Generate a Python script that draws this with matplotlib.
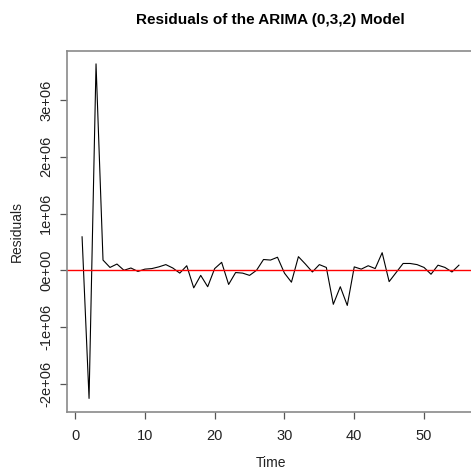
import matplotlib
matplotlib.use('agg')
import matplotlib.pyplot as plt
from matplotlib.ticker import FuncFormatter

# residuals of the fitted ARIMA(0,3,2), in units of 1e6
time = list(range(1, 56))
resid_m = [0.59, -2.26, 3.64, 0.18, 0.05, 0.11, 0.00, 0.04, -0.02, 0.02,
           0.03, 0.06, 0.10, 0.04, -0.05, 0.08, -0.31, -0.09, -0.29, 0.03,
           0.14, -0.25, -0.04, -0.05, -0.09, 0.00, 0.19, 0.18, 0.23, -0.05,
           -0.21, 0.24, 0.11, -0.03, 0.10, 0.05, -0.60, -0.29, -0.62, 0.06,
           0.02, 0.08, 0.03, 0.31, -0.20, -0.04, 0.12, 0.12, 0.10, 0.05,
           -0.07, 0.09, 0.05, -0.03, 0.09]
residuals = [v * 1e6 for v in resid_m]
xticks = [0, 10, 20, 30, 40, 50]
yticks = [-2e6, -1e6, 0, 1e6, 2e6, 3e6]

plt.rcParams['font.family'] = ['Liberation Sans', 'DejaVu Sans']

W, H = 471, 470
fig = plt.figure(figsize=(W / 100, H / 100), dpi=100)
left, right, top, bottom = 67, 474, 50.5, 411.8
ax = fig.add_axes([left / W, 1 - bottom / H, (right - left) / W, (bottom - top) / H])

ax.plot(time, residuals, color='black', lw=0.8)
ax.margins(x=0.04, y=0.04)
ax.axhline(0, color='#ff0000', lw=1.0)

ax.set_xticks(xticks)
ax.set_yticks(yticks)
ax.yaxis.set_major_formatter(FuncFormatter(lambda v, p: f"{v:.0e}"))
for s in ax.spines.values():
    s.set_color('#8a8a8a')
    s.set_linewidth(1.2)
ax.tick_params(axis='both', direction='out', length=5, width=0.9, color='#555555',
               labelsize=10.5, labelcolor='#222222')
ax.tick_params(axis='x', pad=7.5)
ax.tick_params(axis='y', pad=5)
for lab in ax.get_yticklabels():
    lab.set_rotation(90)
    lab.set_va('center')

fig.text(17 / W, 1 - 231 / H, 'Residuals', rotation=90, ha='center', va='center',
         fontsize=10, color='#222222')
fig.text(270.5 / W, 1 - 463 / H, 'Time', ha='center', va='center',
         fontsize=10, color='#222222')
fig.text(270.5 / W, 1 - 20 / H, 'Residuals of the ARIMA (0,3,2) Model',
         ha='center', va='center', fontsize=11, fontweight='bold', color='black')

fig.savefig('out.png', dpi=100)
